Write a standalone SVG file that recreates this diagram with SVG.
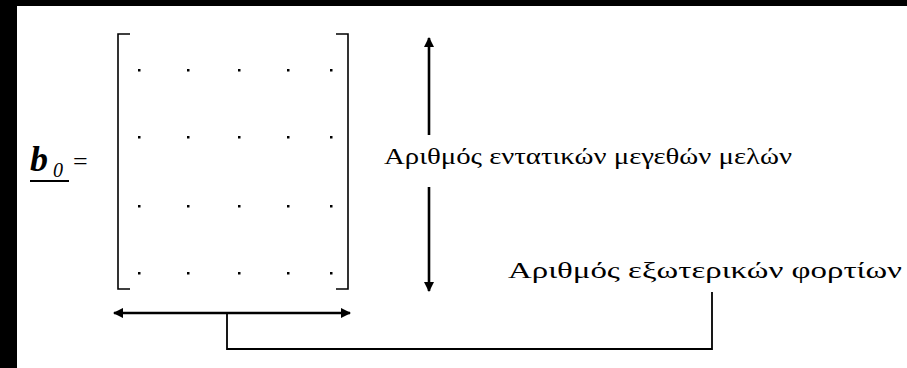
<svg xmlns="http://www.w3.org/2000/svg" width="907" height="368" viewBox="0 0 907 368">
<style>
.br{fill:none;stroke:#000;stroke-width:1.6}
.ln{fill:none;stroke:#000}
.lbl{font-family:"Liberation Serif",serif;font-size:24px;fill:#000}
</style>
<defs>
<marker id="ah" viewBox="0 0 10 10" refX="9" refY="5" markerWidth="4" markerHeight="4" orient="auto-start-reverse" markerUnits="strokeWidth">
<path d="M0,0 L10,5 L0,10 Z" fill="#000"/>
</marker>
</defs>
<rect x="0" y="0" width="907" height="368" fill="#fff"/>
<rect x="0" y="0" width="907" height="6" fill="#000"/>
<rect x="0" y="0" width="17" height="368" fill="#000"/>
<g id="b0">
<text x="30" y="171" font-family="Liberation Serif,serif" font-size="36" font-style="italic" font-weight="bold">b</text>
<text x="53" y="177" font-family="Liberation Serif,serif" font-size="20" font-style="italic">0</text>
<line x1="30" y1="181" x2="69" y2="181" class="ln" stroke-width="1.8"/>
<text x="73" y="170" font-family="Liberation Serif,serif" font-size="26">=</text>
</g>
<g id="matrix">
<path class="br" d="M130,34 H118 V289 H130"/>
<path class="br" d="M336,34 H348 V289 H336"/>
<g fill="#000">
<rect x="138" y="69" width="2.5" height="2.5"/><rect x="187" y="69" width="2.5" height="2.5"/><rect x="238" y="69" width="2.5" height="2.5"/><rect x="287" y="69" width="2.5" height="2.5"/><rect x="330" y="69" width="2.5" height="2.5"/>
<rect x="138" y="136" width="2.5" height="2.5"/><rect x="187" y="136" width="2.5" height="2.5"/><rect x="238" y="136" width="2.5" height="2.5"/><rect x="287" y="136" width="2.5" height="2.5"/><rect x="330" y="136" width="2.5" height="2.5"/>
<rect x="138" y="205" width="2.5" height="2.5"/><rect x="187" y="205" width="2.5" height="2.5"/><rect x="238" y="205" width="2.5" height="2.5"/><rect x="287" y="205" width="2.5" height="2.5"/><rect x="330" y="205" width="2.5" height="2.5"/>
<rect x="138" y="272" width="2.5" height="2.5"/><rect x="187" y="272" width="2.5" height="2.5"/><rect x="238" y="272" width="2.5" height="2.5"/><rect x="287" y="272" width="2.5" height="2.5"/><rect x="330" y="272" width="2.5" height="2.5"/>
</g>
</g>
<g id="label-rows">
<text class="lbl" x="384" y="164" textLength="408" lengthAdjust="spacingAndGlyphs">Αριθμός εντατικών μεγεθών μελών</text>
</g>
<g id="label-cols">
<text class="lbl" x="508" y="278" textLength="394" lengthAdjust="spacingAndGlyphs">Αριθμός εξωτερικών φορτίων</text>
</g>
<g id="connectors">
<line class="ln" x1="429" y1="135" x2="429" y2="38" stroke-width="2.6" marker-end="url(#ah)"/>
<line class="ln" x1="429" y1="187" x2="429" y2="291" stroke-width="2.6" marker-end="url(#ah)"/>
<line class="ln" x1="114" y1="313" x2="350" y2="313" stroke-width="2.6" marker-start="url(#ah)" marker-end="url(#ah)"/>
<polyline class="ln" points="227,313 227,349 712,349 712,292" stroke-width="1.8"/>
</g>
</svg>
